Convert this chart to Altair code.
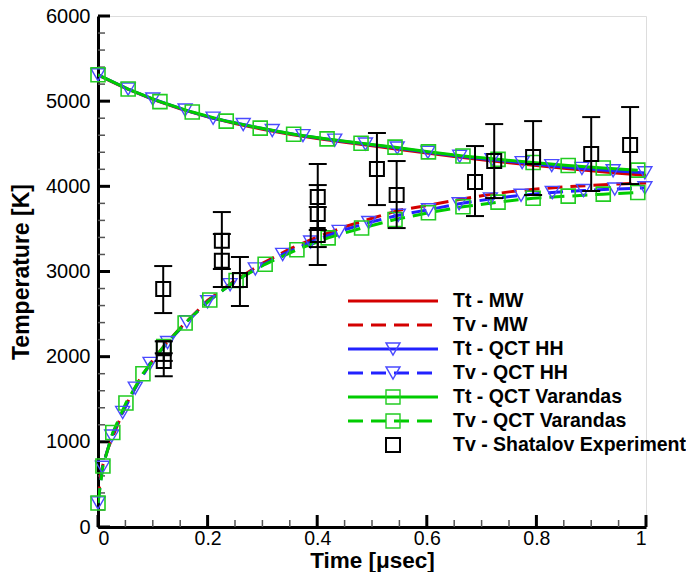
import altair as alt
import pandas as pd

FONT = "Liberation Sans"
W, H = 548, 511

# ---------------- data ----------------
# Tt - MW (red solid)
t_tt_mw = [0, 0.02, 0.05, 0.1, 0.15, 0.2, 0.25, 0.3, 0.35, 0.4, 0.45, 0.5, 0.55, 0.6, 0.65, 0.7, 0.75, 0.8, 0.85, 0.9, 0.95, 1.0]
T_tt_mw = [5310, 5245, 5152, 5022, 4910, 4815, 4738, 4670, 4612, 4562, 4517, 4475, 4432, 4390, 4350, 4312, 4277, 4245, 4213, 4183, 4155, 4130]

# Tv - MW (red dashed)
t_tv_mw = [0, 0.005, 0.01, 0.02, 0.03, 0.05, 0.075, 0.1, 0.125, 0.15, 0.2, 0.25, 0.3, 0.35, 0.4, 0.45, 0.5, 0.55, 0.6, 0.65, 0.7, 0.75, 0.8, 0.85, 0.9, 0.95, 1.0]
T_tv_mw = [300, 620, 760, 950, 1110, 1420, 1720, 1960, 2160, 2335, 2660, 2895, 3095, 3265, 3405, 3525, 3625, 3720, 3775, 3835, 3890, 3935, 3968, 3993, 4012, 4028, 4040]

# Tt - QCT HH (blue solid, triangles)
t_tt_hh = [0, 0.055, 0.1, 0.159, 0.21, 0.265, 0.318, 0.374, 0.432, 0.488, 0.546, 0.602, 0.66, 0.719, 0.774, 0.828, 0.883, 0.94, 0.998]
T_tt_hh = [5310, 5142, 5025, 4895, 4800, 4725, 4655, 4595, 4542, 4496, 4450, 4400, 4352, 4312, 4278, 4243, 4210, 4183, 4158]

# Tv - QCT HH (blue dashed, triangles)
t_tv_hh = [0, 0.008, 0.025, 0.045, 0.068, 0.095, 0.127, 0.162, 0.2, 0.241, 0.287, 0.337, 0.388, 0.44, 0.494, 0.548, 0.603, 0.659, 0.716, 0.772, 0.829, 0.886, 0.943, 0.998]
T_tv_hh = [282, 700, 1068, 1345, 1630, 1920, 2165, 2410, 2645, 2845, 3030, 3200, 3345, 3470, 3575, 3660, 3725, 3795, 3852, 3895, 3928, 3950, 3968, 3982]

# Tt - QCT Varandas (green solid, squares)
t_tt_va = [0, 0.055, 0.113, 0.172, 0.234, 0.296, 0.357, 0.418, 0.48, 0.542, 0.603, 0.666, 0.73, 0.794, 0.858, 0.922, 0.985]
T_tt_va = [5310, 5142, 4995, 4872, 4766, 4684, 4612, 4557, 4505, 4460, 4405, 4357, 4317, 4280, 4245, 4215, 4190]

# Tv - QCT Varandas (green dashed, squares)
t_tv_va = [0, 0.009, 0.027, 0.051, 0.082, 0.12, 0.159, 0.204, 0.252, 0.305, 0.363, 0.42, 0.481, 0.542, 0.603, 0.666, 0.73, 0.794, 0.858, 0.922, 0.985]
T_tv_va = [282, 716, 1110, 1456, 1800, 2120, 2395, 2665, 2895, 3085, 3255, 3395, 3510, 3610, 3690, 3760, 3815, 3860, 3885, 3908, 3928]

# Tv - Shatalov Experiment (black squares with error bars)
t_exp = [0.119, 0.12, 0.12, 0.226, 0.226, 0.259, 0.401, 0.401, 0.401, 0.509, 0.545, 0.688, 0.723, 0.794, 0.9, 0.971]
T_exp = [2794, 2100, 1950, 3360, 3125, 2900, 3874, 3675, 3428, 4203, 3898, 4050, 4297, 4344, 4379, 4485]
lo_exp = [2512, 1950, 1770, 3029, 2818, 2595, 3487, 3287, 3076, 3780, 3510, 3651, 3862, 3898, 3945, 4027]
hi_exp = [3064, 2180, 2040, 3698, 3440, 3170, 4262, 4015, 3757, 4626, 4297, 4473, 4731, 4766, 4813, 4931]

# axis ticks
x_major = [0, 0.2, 0.4, 0.6, 0.8, 1.0]
x_minor = [0.05, 0.1, 0.15, 0.25, 0.3, 0.35, 0.45, 0.5, 0.55, 0.65, 0.7, 0.75, 0.85, 0.9, 0.95]
y_major = [0, 1000, 2000, 3000, 4000, 5000, 6000]
y_minor = [v for v in range(200, 6000, 200) if v % 1000 != 0]

legend_labels = ["Tt - MW", "Tv - MW", "Tt - QCT HH", "Tv - QCT HH",
                 "Tt - QCT Varandas", "Tv - QCT Varandas", "Tv - Shatalov Experiment"]

RED, BLUE, GREEN = "#d40000", "#2222ff", "#00cc00"
BLUE_M, GREEN_M = "#4a4aff", "#22cc22"
DASH = [15, 8]

# ---------------- encodings ----------------
xscale = alt.Scale(domain=[0, 1], nice=False, zero=False)
yscale = alt.Scale(domain=[0, 6000], nice=False, zero=False)
xaxis = alt.Axis(values=x_major, format="~g", title="Time [\u03bcsec]", grid=False, ticks=False,
                 domain=True, domainColor="black", domainWidth=3,
                 labelFont=FONT, labelFontSize=19.5, labelColor="black", labelPadding=2,
                 titleFont=FONT, titleFontSize=22.5, titleFontWeight="bold", titleColor="black",
                 titleBaseline="alphabetic", titleY=40)
yaxis = alt.Axis(values=y_major, format="d", title="Temperature [K]", grid=False, ticks=False,
                 domain=True, domainColor="black", domainWidth=3,
                 labelFont=FONT, labelFontSize=20, labelColor="black", labelPadding=8,
                 titleFont=FONT, titleFontSize=23, titleFontWeight="bold", titleColor="black",
                 titlePadding=12)


def X(field="t"):
    return alt.X(f"{field}:Q", scale=xscale, axis=xaxis)


def Y(field="T"):
    return alt.Y(f"{field}:Q", scale=yscale, axis=yaxis)


def line(t, T, color, dash=None):
    kw = dict(color=color, strokeWidth=3, clip=True)
    if dash:
        kw["strokeDash"] = dash
    return alt.Chart(pd.DataFrame({"t": t, "T": T})).mark_line(**kw).encode(x=X(), y=Y())


def pts(t, T, color, shape, sw=1.4, size=196):
    return alt.Chart(pd.DataFrame({"t": t, "T": T})).mark_point(
        shape=shape, size=size, color=color, strokeWidth=sw, filled=False, opacity=1
    ).encode(x=X(), y=Y())


layers = []
# axis ticks (inward)
layers.append(alt.Chart(pd.DataFrame({"v": y_major})).mark_rule(color="black", strokeWidth=3)
              .encode(y=Y("v"), x=alt.value(0), x2=alt.value(12)))
layers.append(alt.Chart(pd.DataFrame({"v": y_minor})).mark_rule(color="#555555", strokeWidth=1.5)
              .encode(y=Y("v"), x=alt.value(0), x2=alt.value(7)))
layers.append(alt.Chart(pd.DataFrame({"v": x_major})).mark_rule(color="black", strokeWidth=3)
              .encode(x=X("v"), y=alt.value(H), y2=alt.value(H - 12)))
layers.append(alt.Chart(pd.DataFrame({"v": x_minor})).mark_rule(color="#555555", strokeWidth=1.5)
              .encode(x=X("v"), y=alt.value(H), y2=alt.value(H - 7)))

# curves
layers += [
    line(t_tt_mw, T_tt_mw, RED),
    line(t_tv_mw, T_tv_mw, RED, DASH),
    line(t_tt_hh, T_tt_hh, BLUE),
    line(t_tv_hh, T_tv_hh, BLUE, DASH),
    line(t_tt_va, T_tt_va, GREEN),
    line(t_tv_va, T_tv_va, GREEN, DASH),
    pts(t_tt_hh, T_tt_hh, BLUE_M, "triangle-down"),
    pts(t_tv_hh, T_tv_hh, BLUE_M, "triangle-down"),
    pts(t_tt_va, T_tt_va, GREEN_M, "square", 1.6),
    pts(t_tv_va, T_tv_va, GREEN_M, "square", 1.6),
]

# experiment
exp_df = pd.DataFrame({"t": t_exp, "T": T_exp, "lo": lo_exp, "hi": hi_exp})
layers.append(alt.Chart(exp_df).mark_rule(color="black", strokeWidth=2)
              .encode(x=X(), y=Y("lo"), y2="hi"))
layers.append(alt.Chart(exp_df).mark_rule(color="black", strokeWidth=2, xOffset=-9, x2Offset=9)
              .encode(x=X(), x2="t", y=Y("lo")))
layers.append(alt.Chart(exp_df).mark_rule(color="black", strokeWidth=2, xOffset=-9, x2Offset=9)
              .encode(x=X(), x2="t", y=Y("hi")))
layers.append(pts(t_exp, T_exp, "black", "square", 2.0))

# legend (drawn by hand, Tecplot style)
one = pd.DataFrame({"a": [0]})
LX1, LX2, LXM, LXT = 250, 340, 295, 355
leg_styles = [
    (RED, None, None, None),
    (RED, DASH, None, None),
    (BLUE, None, "triangle-down", BLUE_M),
    (BLUE, DASH, "triangle-down", BLUE_M),
    (GREEN, None, "square", GREEN_M),
    (GREEN, DASH, "square", GREEN_M),
    (None, None, "square", "black"),
]
for i, (lab, (lc, ld, shp, mc)) in enumerate(zip(legend_labels, leg_styles)):
    yy = 285 + 24 * i
    if lc:
        kw = dict(color=lc, strokeWidth=3)
        if ld:
            kw["strokeDash"] = ld
        layers.append(alt.Chart(one).mark_rule(**kw)
                      .encode(x=alt.value(LX1), x2=alt.value(LX2), y=alt.value(yy)))
    if shp:
        layers.append(alt.Chart(one).mark_point(shape=shp, size=196, color=mc, filled=False,
                                                 opacity=1, strokeWidth=2.0 if mc == "black" else 1.4)
                      .encode(x=alt.value(LXM), y=alt.value(yy)))
    layers.append(alt.Chart(one).mark_text(text=lab, font=FONT, fontSize=19.5, fontWeight="bold",
                                           align="left", baseline="middle", color="black")
                  .encode(x=alt.value(LXT), y=alt.value(yy)))

chart = alt.layer(*layers).properties(
    width=W, height=H,
    autosize=alt.AutoSizeParams(type="none"),
    padding={"left": 90, "top": 8, "right": 40, "bottom": 45},
).configure_view(stroke=None).configure(background="white")

chart.save("out.html", embed_options={"renderer": "svg", "actions": False})
